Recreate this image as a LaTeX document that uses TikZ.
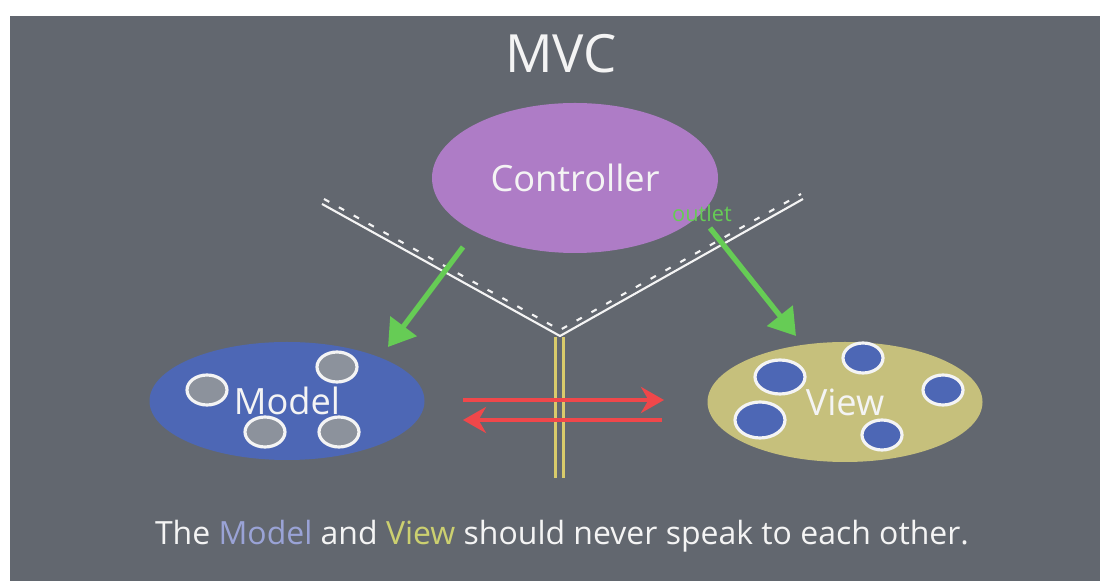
\documentclass[tikz,border=0pt]{standalone}
\usepackage{fontspec}
\setmainfont{Open Sans}
\usetikzlibrary{calc,shapes.geometric,arrows.meta}
\definecolor{board}{HTML}{62676F}
\definecolor{lilac}{HTML}{AE7CC6}
\definecolor{navy}{HTML}{4D67B5}
\definecolor{khaki}{HTML}{C6C07C}
\definecolor{chalk}{HTML}{F4F4F4}
\definecolor{leaf}{HTML}{66CC55}
\definecolor{flame}{HTML}{F0474A}
\definecolor{straw}{HTML}{D9CB6B}
\definecolor{pebble}{HTML}{8C929C}
\definecolor{modelink}{HTML}{9AA3D6}
\definecolor{viewink}{HTML}{CCD070}

\begin{document}
\begin{tikzpicture}[blob/.style={ellipse,inner sep=0pt,text=chalk,font=\fontsize{10.3}{12}\selectfont},bubble/.style={ellipse,inner sep=0pt,draw=chalk,line width=0.9pt,minimum width=4mm,minimum height=3mm},push/.style={leaf,line width=1.5pt,-{Triangle[length=2.6mm,width=3.2mm]}},talk/.style={flame,line width=1.4pt,-{Stealth[length=2.3mm,width=2.6mm]}},chalkline/.style={chalk,line width=0.6pt}]
 \fill[white] (0,0) rectangle (11,-5.81);
 \fill[board] (0.10,-0.16) rectangle (11,-5.81);
 \node[font=\fontsize{15}{18}\selectfont,text=chalk,anchor=base] (title) at (5.61,-0.73) {MVC};
 \node[blob,fill=lilac,minimum width=2.86cm,minimum height=1.5cm] (ctrl) at (5.75,-1.78) {Controller};
 \node[blob,fill=navy,minimum width=2.75cm,minimum height=1.18cm] (model) at (2.87,-4.01) {Model};
 \node[blob,fill=khaki,minimum width=2.75cm,minimum height=1.2cm] (view) at (8.45,-4.02) {View};
 \foreach \x/\y [count=\i] in {2.07/-3.90,3.37/-3.67,2.65/-4.32,3.39/-4.32}
  {\node[bubble,fill=pebble] (m\i) at (\x,\y) {};}
 \foreach \x/\y/\w/\h [count=\i] in {7.80/-3.77/5/3.4,8.63/-3.58/4/3,9.43/-3.90/4/3,7.60/-4.20/5/3.6,8.82/-4.35/4/3}
  {\node[bubble,fill=navy,minimum width=\w mm,minimum height=\h mm] (v\i) at (\x,\y) {};}
 % the wall between model and view
 \coordinate (vl) at (3.22,-2.04); \coordinate (vr) at (8.03,-1.99); \coordinate (vt) at (5.60,-3.36);
 \coordinate (wt) at (5.595,-3.37); \coordinate (wb) at (5.595,-4.78);
 \draw[chalkline] (vl)--(vt)--(vr);
 \draw[chalkline,dash pattern=on 0.06cm off 0.11cm] ($(vl)+(0.02,0.05)$)--($(vt)+(0,0.06)$)--($(vr)+(-0.02,0.05)$);
 \draw[straw,line width=0.9pt,double=board,double distance=1.6pt] (wt)--(wb);
 \coordinate (c2m) at (4.63,-2.47); \coordinate (mtip) at (3.88,-3.47);
 \coordinate (c2v) at (7.10,-2.28); \coordinate (vtip) at (7.96,-3.36);
 \draw[push] (c2m)--(mtip); \draw[push] (c2v)--(vtip);
 \node[font=\fontsize{6.2}{7}\selectfont,text=leaf] (outlet) at (7.02,-2.13) {outlet};
 \coordinate (m2v) at (4.63,-4.00); \coordinate (vin) at (6.64,-4.00);
 \coordinate (v2m) at (6.62,-4.20); \coordinate (min) at (4.63,-4.20);
 \draw[talk] (m2v)--(vin); \draw[talk] (v2m)--(min);
 \node[font=\fontsize{9.1}{11}\selectfont,text=chalk,anchor=base] (motto) at (5.62,-5.45)
  {The \textcolor{modelink}{Model} and \textcolor{viewink}{View} should never speak to each other.};
\end{tikzpicture}
\end{document}
